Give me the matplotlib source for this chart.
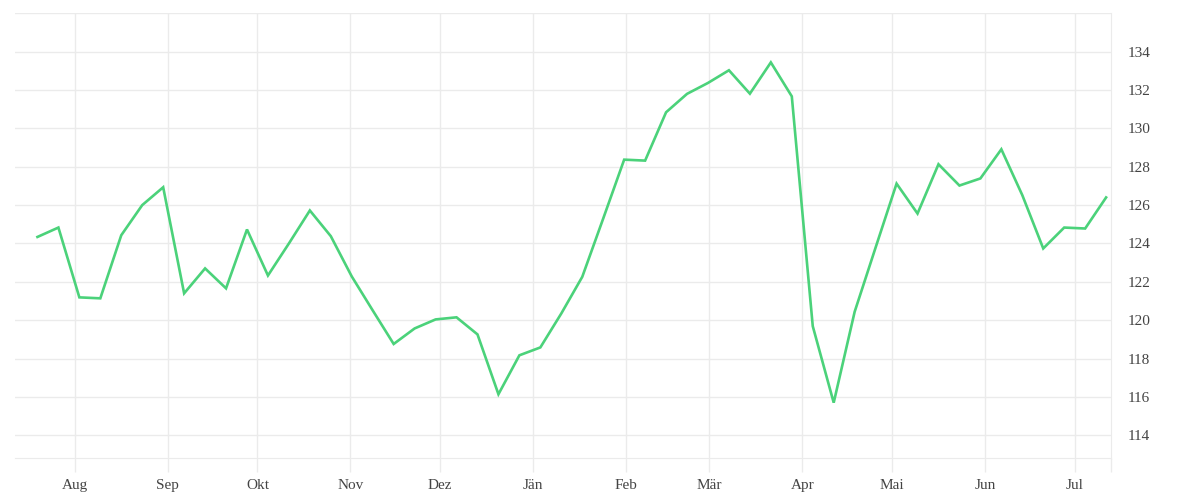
import numpy as np
import pandas as pd
import matplotlib
matplotlib.use("Agg")
import matplotlib.pyplot as plt

# weekly values, Jul 2018 - Jul 2019
dates = pd.date_range("2018-07-19 12:00", periods=52, freq="7D")
values = [
    124.34, 124.83, 121.19, 121.14, 124.43, 126.00, 126.93, 121.40, 122.70, 121.66,
    124.73, 122.33, 124.00, 125.72, 124.38, 122.28, 120.51, 118.76, 119.57, 120.04,
    120.15, 119.26, 116.14, 118.17, 118.58, 120.35, 122.26, 125.30, 128.37, 128.32,
    130.84, 131.80, 132.37, 133.03, 131.81, 133.44, 131.67, 119.69, 115.70, 120.44,
    123.79, 127.12, 125.56, 128.13, 127.02, 127.39, 128.91, 126.52, 123.74, 124.83,
    124.78, 126.40,
]
month_labels = ["Aug", "Sep", "Okt", "Nov", "Dez", "Jän", "Feb", "Mär", "Apr", "Mai", "Jun", "Jul"]
month_starts = pd.date_range("2018-08-01", periods=12, freq="MS")
y_ticks = np.arange(114, 135, 2)

plt.rcParams["font.family"] = ["Liberation Serif", "DejaVu Serif"]
grid_col = "#ebebeb"
text_col = "#444444"

fig = plt.figure(figsize=(12, 5), dpi=100)
ax = fig.add_axes([0.0125, 0.0834, 0.913, 0.89])

ax.plot(dates, values, color="#4bd27a", linewidth=1.9, solid_joinstyle="miter", zorder=3)

ax.set_xlim(pd.Timestamp("2018-07-12"), pd.Timestamp("2019-07-13"))
ax.set_ylim(112.8, 136)

ax.set_xticks(month_starts)
ax.set_xticklabels(month_labels)
ax.set_xticks([pd.Timestamp("2019-07-13")], minor=True)
ax.set_yticks(y_ticks)
ax.yaxis.tick_right()

ax.grid(True, color=grid_col, linewidth=1)
ax.axhline(136, color=grid_col, linewidth=1)
ax.tick_params(axis="x", which="both", length=10, width=1, color=grid_col,
               labelsize=11, labelcolor=text_col, pad=5)
ax.tick_params(axis="y", length=0, labelsize=11, labelcolor=text_col, pad=12)

for side in ["left", "top"]:
    ax.spines[side].set_visible(False)
ax.spines["bottom"].set_color(grid_col)
ax.spines["right"].set_color(grid_col)

fig.savefig("out.png", dpi=100)
